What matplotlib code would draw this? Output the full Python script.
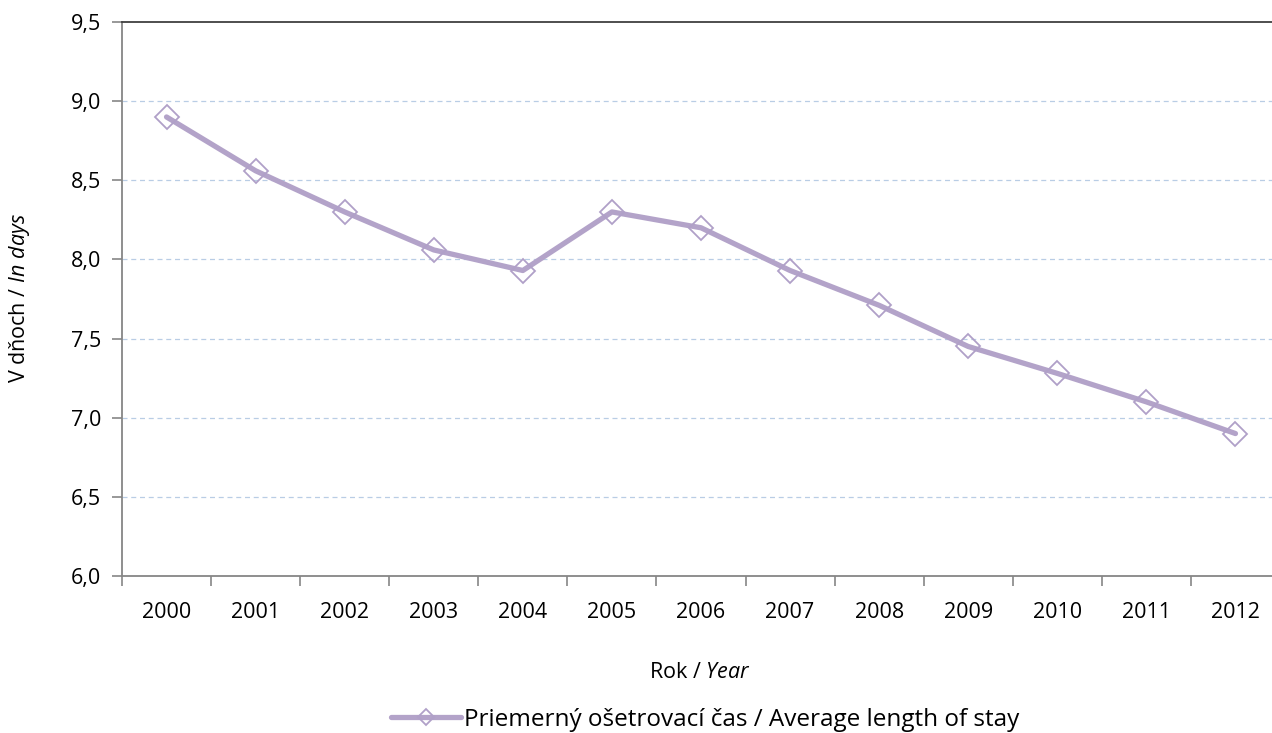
import numpy as np
import matplotlib
matplotlib.use("Agg")
import matplotlib.pyplot as plt
from matplotlib.ticker import FixedLocator, FuncFormatter

plt.rcParams['font.family'] = ['Open Sans', 'DejaVu Sans']
plt.rcParams['mathtext.fontset'] = 'custom'
plt.rcParams['mathtext.rm'] = 'Open Sans'
plt.rcParams['mathtext.it'] = 'Open Sans:italic'

# data
years = ['2000', '2001', '2002', '2003', '2004', '2005', '2006',
         '2007', '2008', '2009', '2010', '2011', '2012']
avg_stay = [8.90, 8.56, 8.30, 8.06, 7.93, 8.30, 8.20,
            7.93, 7.71, 7.45, 7.28, 7.10, 6.90]
y_ticks = [6.0, 6.5, 7.0, 7.5, 8.0, 8.5, 9.0, 9.5]

LINE_COL = '#b3a3c9'
MARK_COL = '#b0a0c8'
GRID_COL = '#b9cde5'
AXIS_COL = '#868686'

fig = plt.figure(figsize=(12.72, 7.33), dpi=100)
ax = fig.add_axes([122/1272, 1-576/733, (1280-122)/1272, (576-22)/733])

x = np.arange(len(years))
line, = ax.plot(x, avg_stay, color=LINE_COL, lw=3.8, solid_capstyle='round',
                marker='D', markersize=12, markerfacecolor='none',
                markeredgecolor=MARK_COL, markeredgewidth=1.3, zorder=3,
                label='Priemerný ošetrovací čas / Average length of stay')

ax.set_xlim(-0.5, len(years) - 0.5)
ax.set_ylim(6.0, 9.5)

ax.set_yticks(y_ticks)
ax.yaxis.set_major_formatter(FuncFormatter(lambda v, p: ('%.1f' % v).replace('.', ',')))
for v in y_ticks[1:-1]:
    ax.axhline(v, color=GRID_COL, lw=0.9, ls=(0, (4, 3)), zorder=1)

ax.set_xticks(x)
ax.set_xticklabels(years)
ax.xaxis.set_minor_locator(FixedLocator(np.arange(-0.5, len(years), 1.0)))
ax.tick_params(axis='x', which='major', length=0, pad=19, labelsize=15.5)
ax.tick_params(axis='x', which='minor', length=7, width=1.2, color=AXIS_COL, direction='out')
ax.tick_params(axis='y', which='major', length=7, width=1.2, color=AXIS_COL,
               direction='out', pad=8, labelsize=15.5)

for s in ['left', 'bottom']:
    ax.spines[s].set_color(AXIS_COL)
    ax.spines[s].set_linewidth(1.3)
ax.spines['top'].set_color('#404040')
ax.spines['top'].set_linewidth(1.3)
ax.spines['right'].set_visible(False)

fig.text(700/1272, 1-672/733, r'Rok / $\it{Year}$', ha='center', va='center', fontsize=15.5)
fig.text(20/1272, 1-298/733, r'V dňoch / $\it{In\ days}$', ha='center', va='center',
         rotation=90, fontsize=15.5)

fig.legend(handles=[line], loc='center', bbox_to_anchor=(705/1272, 1-720/733),
           frameon=False, fontsize=17.5, handlelength=2.9, handletextpad=0.1,
           markerscale=0.7)

fig.savefig('out.png', dpi=100)
